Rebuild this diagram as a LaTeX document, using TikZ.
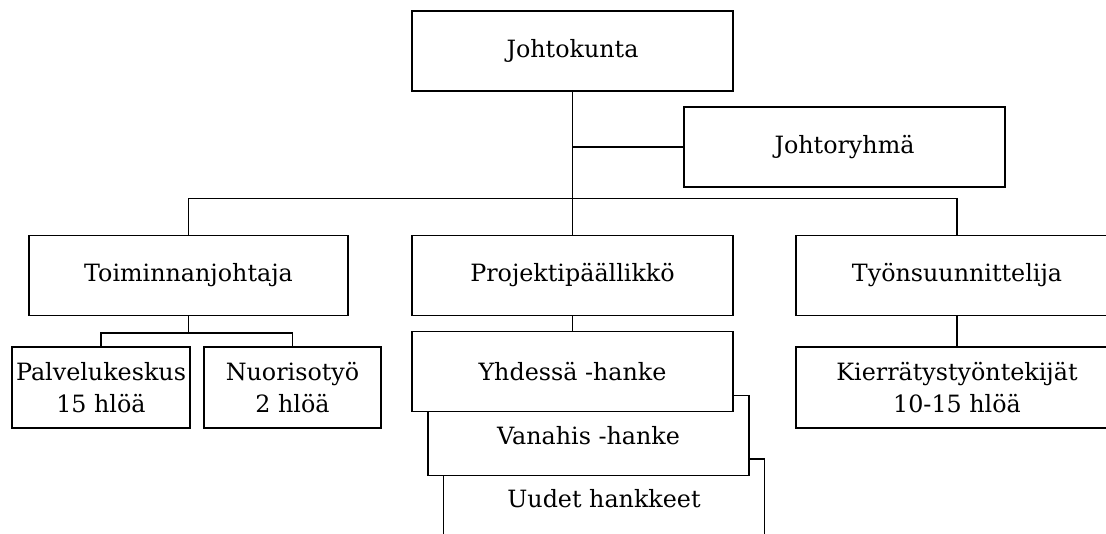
\documentclass[tikz,border=0pt]{standalone}
\usepackage{fontspec}
\setmainfont{DejaVu Serif}
\begin{document}
\begin{tikzpicture}[x=1pt,y=-1pt,
  box/.style={draw=black,line width=1.5pt,fill=white,rectangle,inner sep=0pt,
    minimum width=321pt,minimum height=80pt,align=center,
    font=\fontsize{23.8}{32}\selectfont},
  small/.style={box,minimum width=178pt},
  conn/.style={draw=black,line width=1.5pt}]
\useasboundingbox (0,0) rectangle (1106,534);
\clip (0,0) rectangle (1106,534);
\node[box] (jk) at (572.5,51) {Johtokunta};
\node[box] (jr) at (844.5,147) {Johtoryhmä};
\node[box,minimum width=319pt] (tj) at (188.5,275.5) {Toiminnanjohtaja};
\node[box] (pp) at (572.5,275.5) {Projektipäällikkö};
\node[box,minimum width=322pt] (ts) at (957,275.5) {Työnsuunnittelija};
\node[box,minimum width=322pt,minimum height=81pt] (kt) at (957,387.5) {Kierrätystyöntekijät\\10-15 hlöä};
\node[small,minimum height=81pt] (pk) at (101,387.5) {Palvelukeskus\\15 hlöä};
\node[small,minimum width=177pt,minimum height=81pt] (ny) at (292.5,387.5) {Nuorisotyö\\2 hlöä};
\node[box] (uu) at (604,499) {Uudet hankkeet};
\node[box] (va) at (588.5,435.5) {Vanahis -hanke};
\node[box] (yh) at (572.5,371.5) {Yhdessä -hanke};
\draw[conn] (jk.south) -- (pp.north);
\draw[conn] (jr.west) -- (jr.west -| jk.south);
\draw[conn] (tj.north) -- ++(0,-36) coordinate (busl) -| (ts.north);
\draw[conn] (tj.south) -- ++(0,17) coordinate (tjb);
\draw[conn] (pk.north) |- (tjb) -| (ny.north);
\draw[conn] (pp.south) -- (yh.north);
\draw[conn] (ts.south) -- (kt.north);
\end{tikzpicture}
\end{document}
